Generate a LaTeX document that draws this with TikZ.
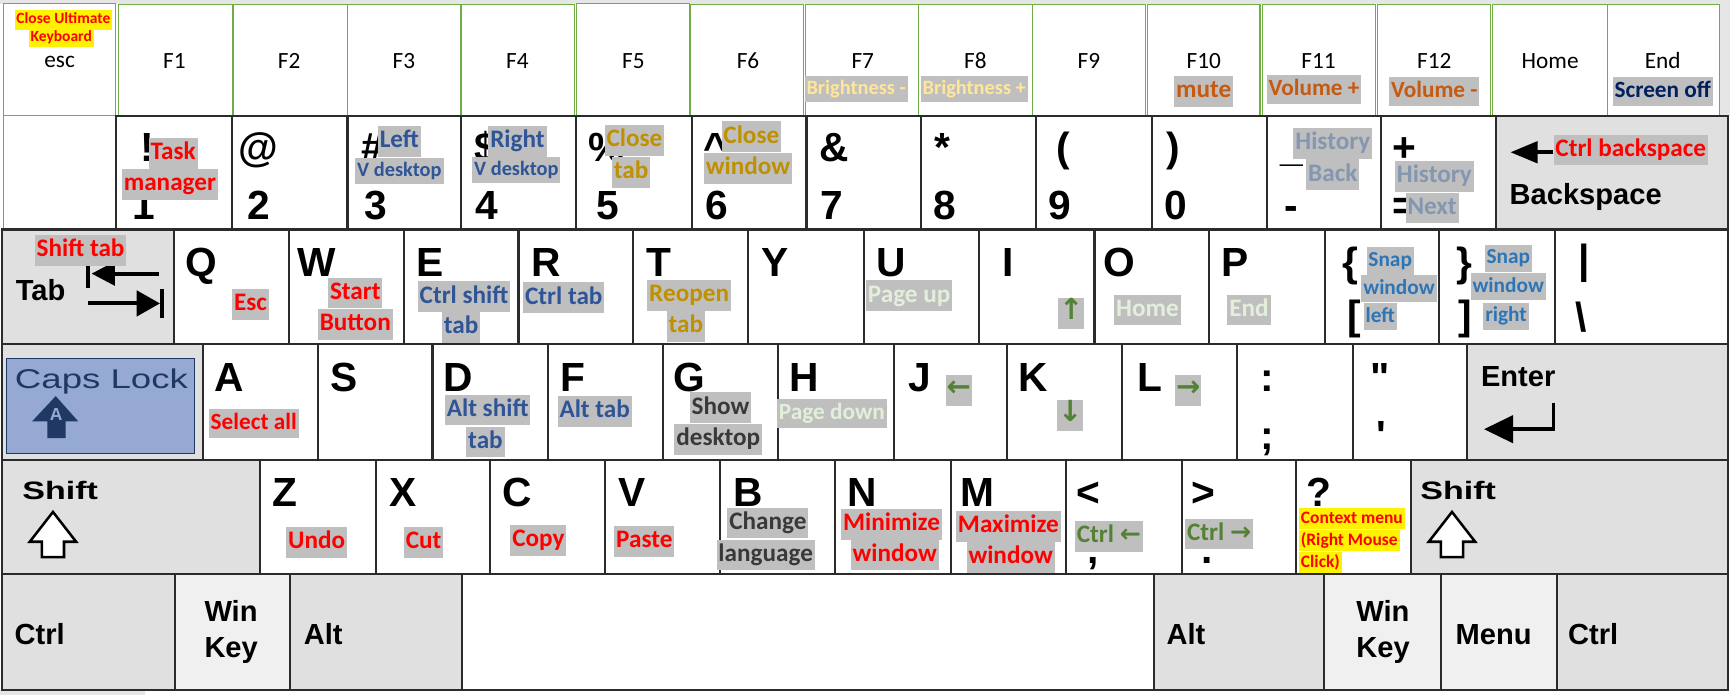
\documentclass[tikz,border=0pt]{standalone}
\usepackage{fontspec}
\setmainfont{Carlito}
\newfontfamily\keyfont{Liberation Sans}
\newfontfamily\widefont[FakeStretch=1.35]{Liberation Sans}
\newfontfamily\arrowfont{DejaVu Sans}
\usetikzlibrary{arrows.meta}

\definecolor{keyline}{HTML}{2B2B2B}
\definecolor{fgreen}{HTML}{70AD47}
\definecolor{modgray}{HTML}{E0E0E0}
\definecolor{wingray}{HTML}{F0F0F0}
\definecolor{taggray}{HTML}{BFBFBF}
\definecolor{bggray}{HTML}{E6E6E6}
\definecolor{scred}{HTML}{FF0000}
\definecolor{scblue}{HTML}{2F5597}
\definecolor{scgold}{HTML}{BF9000}
\definecolor{sclight}{HTML}{FFE699}
\definecolor{scorange}{HTML}{C55A11}
\definecolor{scnavy}{HTML}{002060}
\definecolor{schist}{HTML}{8497B0}
\definecolor{scpage}{HTML}{E2EFDA}
\definecolor{scarrow}{HTML}{548235}
\definecolor{scsnap}{HTML}{2E75B6}
\definecolor{scdark}{HTML}{3A3838}
\definecolor{capsfill}{HTML}{95A9D3}
\definecolor{capsnavy}{HTML}{1F3864}

\tikzset{
  keycap/.style={draw=keyline, line width=1.1pt, fill=white},
  modkey/.style={keycap, fill=modgray},
  winkey/.style={keycap, fill=wingray},
  fkey/.style={draw=fgreen, line width=0.6pt, fill=white},
  lgd/.style={anchor=base west, inner sep=0pt, font=\keyfont\bfseries\fontsize{21}{21}\selectfont},
  modlbl/.style={anchor=base west, inner sep=0pt, font=\keyfont\bfseries\fontsize{15}{15}\selectfont},
  flbl/.style={anchor=base, inner sep=0pt, font=\fontsize{12}{12}\selectfont},
  tag/.style={fill=taggray, inner xsep=1pt, inner ysep=1.5pt, text height=9.7pt, text depth=3.2pt, font=\bfseries\fontsize{13}{13}\selectfont},
  tagmid/.style={tag, text height=9pt, text depth=3pt, font=\bfseries\fontsize{12}{12}\selectfont},
  tagsnap/.style={tag, text height=8.3pt, text depth=2.7pt, font=\bfseries\fontsize{11}{11}\selectfont},
  tagsmall/.style={tag, text height=7.9pt, text depth=2.6pt, font=\bfseries\fontsize{10.5}{10.5}\selectfont},
  tagarrow/.style={tag, text=scarrow, inner xsep=0.5pt, font=\arrowfont\bfseries\fontsize{15}{15}\selectfont},
  hl/.style={fill=yellow, text=scred, inner xsep=1pt, inner ysep=1pt, text height=6.8pt, text depth=2.2pt, font=\bfseries\fontsize{9}{9}\selectfont},
  icon/.style={line width=2pt, draw=black},
}

\begin{document}
\begin{tikzpicture}[x=0.02cm, y=-0.02cm]
\useasboundingbox (0,0) rectangle (1568,630);
\fill[bggray] (0,0) rectangle (1568,4);
\fill[bggray] (1559,0) rectangle (1568,105);
\fill[bggray] (0,625.5) rectangle (131,630);

% function row
\draw[fkey] (3,3) rectangle (105,105);
\draw[fkey] (107.5,4) rectangle (210.5,105);
\draw[fkey] (212,4) rectangle (314.6,105);
\draw[fkey] (314.6,4) rectangle (417,105);
\draw[fkey] (418,4) rectangle (520.6,105);
\draw[fkey] (522.7,3) rectangle (625,105);
\draw[fkey] (626,4) rectangle (728.6,105);
\draw[fkey] (730.3,4) rectangle (832.3,105);
\draw[fkey] (832.3,4) rectangle (935.6,105);
\draw[fkey] (935.6,4) rectangle (1038.3,105);
\draw[fkey] (1040,4) rectangle (1142,105);
\draw[fkey] (1144,4) rectangle (1247,105);
\draw[fkey] (1248.5,4) rectangle (1351,105);
\draw[fkey] (1353,4) rectangle (1457,105);
\draw[fkey] (1457,4) rectangle (1558.6,105);

% number row
\draw[fkey] (3,105) rectangle (105,207.5);
\foreach \a/\b in {105/210,210/315,315/418,418/522,522/627,627/731,731/835,835/939,939/1044,1044/1148,1148/1252,1252/1356}
  \draw[keycap] (\a,105) rectangle (\b,208);
\draw[modkey] (1356,105) rectangle (1566,208);

% top letter row
\draw[modkey] (2,208) rectangle (158,312);
\foreach \a/\b in {158/262,262/366,366/470,470/574,574/678,678/783,783/887,887/992,992/1096,1096/1201,1201/1304,1304/1409,1409/1566}
  \draw[keycap] (\a,208) rectangle (\b,312);

% home row
\draw[modkey] (2,312) rectangle (184,417);
\draw[draw=capsnavy, line width=0.6pt, fill=capsfill] (6,325) rectangle (176,411);
\foreach \a/\b in {184/288,288/392,392/497,497/601,601/705,705/810,810/913,913/1017,1017/1121,1121/1226,1226/1330}
  \draw[keycap] (\a,312) rectangle (\b,417);
\draw[modkey] (1330,312) rectangle (1566,417);

% shift row
\draw[modkey] (2,417) rectangle (235.5,520.5);
\foreach \a/\b in {235.5/340.5,340.5/444,444/548,548/652.5,652.5/757,757/862,862/966,966/1071,1071/1175,1175/1279}
  \draw[keycap] (\a,417) rectangle (\b,520.5);
\draw[modkey] (1279,417) rectangle (1566,520.5);

% bottom row
\draw[modkey] (2,520.5) rectangle (158.5,625.5);
\draw[winkey] (158.5,520.5) rectangle (262.5,625.5);
\draw[modkey] (262.5,520.5) rectangle (418.5,625.5);
\draw[keycap] (418.5,520.5) rectangle (1046,625.5);
\draw[modkey] (1046,520.5) rectangle (1200,625.5);
\draw[winkey] (1200,520.5) rectangle (1306,625.5);
\draw[winkey] (1306,520.5) rectangle (1411,625.5);
\draw[modkey] (1411,520.5) rectangle (1566,625.5);

% function row labels
\node[flbl] (fEsc) at (54,61) {esc};
\node[flbl] (fF1) at (158,62) {F1};
\node[flbl] (fF2) at (262,62) {F2};
\node[flbl] (fF3) at (366,62) {F3};
\node[flbl] (fF4) at (469,62) {F4};
\node[flbl] (fF5) at (574,62) {F5};
\node[flbl] (fF6) at (678,62) {F6};
\node[flbl] (fF7) at (782,62) {F7};
\node[flbl] (fF8) at (884,62) {F8};
\node[flbl] (fF9) at (987,62) {F9};
\node[flbl] (fF10) at (1091,62) {F10};
\node[flbl] (fF11) at (1195,62) {F11};
\node[flbl] (fF12) at (1300,62) {F12};
\node[flbl] (fHome) at (1405,62) {Home};
\node[flbl] (fEnd) at (1507,62) {End};
\node[hl, text height=6pt, text depth=2pt, font=\bfseries\fontsize{8}{8}\selectfont] (hClose) at (57.5,18) {Close Ultimate};
\node[hl, text height=6pt, text depth=2pt, font=\bfseries\fontsize{8}{8}\selectfont] (hKeyb) at (55.5,34) {Keyboard};
\node[tagsmall, text=sclight] (tBrDown) at (776,81) {Brightness -};
\node[tagsmall, text=sclight] (tBrUp) at (883,81) {Brightness +};
\node[tag, text=scorange] (tMute) at (1091,83) {mute};
\node[tagmid, text=scorange] (tVolUp) at (1191,81) {Volume +};
\node[tagmid, text=scorange] (tVolDn) at (1300,83) {Volume -};
\node[tagmid, text=scnavy] (tScreen) at (1507,83) {Screen off};

% number row legends
\node[lgd] (kExcl) at (127,146) {!};
\node[lgd] (kOne) at (120,198.5) {1};
\node[lgd] (kAt) at (216,146) {@};
\node[lgd] (kTwo) at (224,198.5) {2};
\node[lgd] (kHash) at (327,146) {\#};
\node[lgd] (kThree) at (330,198.5) {3};
\node[lgd] (kDollar) at (430,146) {\$};
\node[lgd] (kFour) at (431,198.5) {4};
\node[lgd] (kPct) at (533,146) {\%};
\node[lgd] (kFive) at (540,198.5) {5};
\node[lgd] (kHat) at (637,146) {\textasciicircum};
\node[lgd] (kSix) at (639,198.5) {6};
\node[lgd] (kAmp) at (742,146) {\&};
\node[lgd] (kSeven) at (743,198.5) {7};
\node[lgd] (kStar) at (847,146) {*};
\node[lgd] (kEight) at (846,198.5) {8};
\node[lgd] (kLpar) at (957,146) {(};
\node[lgd] (kNine) at (950,198.5) {9};
\node[lgd] (kRpar) at (1057,146) {)};
\node[lgd] (kZero) at (1055,198.5) {0};
\node[lgd] (kUnder) at (1160,146) {\_};
\node[lgd] (kMinus) at (1164,198.5) {-};
\node[lgd] (kPlus) at (1262,146) {+};
\node[lgd] (kEq) at (1262,198.5) {=};
\node[modlbl] (kBack) at (1368,185) {Backspace};
\draw[icon, -{Triangle[length=14pt, width=11pt]}] (1408,138) -- (1369,138);

% number row tags
\node[tag, text=scred] (tTask) at (157,139) {Task};
\node[tag, text=scred] (tManager) at (154,167) {manager};
\node[tag, text=scblue] (tLeft) at (362,128) {Left};
\node[tagsmall, text=scblue] (tVdL) at (362,155) {V desktop};
\node[tag, text=scblue] (tRight) at (469,128) {Right};
\node[tagsmall, text=scblue] (tVdR) at (468,154) {V desktop};
\node[tag, text=scgold] (tClose) at (575,127) {Close};
\node[tag, text=scgold] (tTab) at (572,156) {tab};
\node[tag, text=scgold] (tCloseW) at (681,124) {Close};
\node[tag, text=scgold] (tWindow) at (678,152.5) {window};
\node[tag, text=schist] (tHistB) at (1208,130) {History};
\node[tag, text=schist] (tBack) at (1208,158.5) {Back};
\node[tag, text=schist] (tHistN) at (1300,159.6) {History};
\node[tag, text=schist] (tNext) at (1298,188.5) {Next};
\node[tag, text=scred] (tCtrlBs) at (1478,136) {Ctrl backspace};

% top letter row
\node[modlbl] (kTab) at (14,272) {Tab};
\draw[icon, -{Triangle[length=12pt, width=12pt]}] (144,248) -- (83,248);
\draw[icon] (80,239) -- (80,261);
\draw[icon, -{Triangle[length=12pt, width=13pt]}] (80,275) -- (145,275);
\draw[icon] (147,262) -- (147,288);
\node[lgd] (kQ) at (168,250.5) {Q};
\node[lgd] (kW) at (269,250.5) {W};
\node[lgd] (kE) at (377,250.5) {E};
\node[lgd] (kR) at (481,250.5) {R};
\node[lgd] (kT) at (586,250.5) {T};
\node[lgd] (kY) at (690,250.5) {Y};
\node[lgd] (kU) at (794,250.5) {U};
\node[lgd] (kI) at (908,250.5) {I};
\node[lgd] (kO) at (1000,250.5) {O};
\node[lgd] (kP) at (1107,250.5) {P};
\node[lgd] (kLbrace) at (1216,250.5) {\{};
\node[lgd] (kLbrack) at (1221,299) {[};
\node[lgd] (kRbrace) at (1320,250.5) {\}};
\node[lgd] (kRbrack) at (1322,299) {]};
\node[lgd] (kBar) at (1430,248) {|};
\node[lgd] (kBslash) at (1428,300) {\textbackslash};

\node[tag, text=scred] (tShiftTab) at (73,227) {Shift tab};
\node[tag, text=scred] (tEsc) at (227,275.7) {Esc};
\node[tag, text=scred] (tStart) at (322,265.6) {Start};
\node[tag, text=scred] (tButton) at (322,294) {Button};
\node[tag, text=scblue] (tCst) at (420.6,269) {Ctrl shift};
\node[tag, text=scblue] (tCstTab) at (418,297) {tab};
\node[tag, text=scblue] (tCtab) at (511,270) {Ctrl tab};
\node[tag, text=scgold] (tReopen) at (624.6,267.5) {Reopen};
\node[tag, text=scgold] (tReTab) at (621.7,296) {tab};
\node[tag, text=scpage] (tPgUp) at (824,268) {Page up};
\node[tagarrow] (tUp) at (971,284) {↑};
\node[tag, text=scpage] (tHome) at (1040,281) {Home};
\node[tag, text=scpage] (tEnd) at (1132,281) {End};
\node[tagsnap, text=scsnap] (tSnapL) at (1260,236.5) {Snap};
\node[tagsnap, text=scsnap] (tWinL) at (1268,261.6) {window};
\node[tagsnap, text=scsnap] (tLeftL) at (1251,287) {left};
\node[tagsnap, text=scsnap] (tSnapR) at (1367,234) {Snap};
\node[tagsnap, text=scsnap] (tWinR) at (1367,260) {window};
\node[tagsnap, text=scsnap] (tRightR) at (1365,286.6) {right};

% home row
\node[anchor=base, inner sep=0pt, text=capsnavy, font=\widefont\fontsize{14}{14}\selectfont] (kCaps) at (92,352) {Caps Lock};
\fill[capsnavy] (50.5,359) -- (71,382) -- (59.5,382) -- (59.5,397) -- (43,397) -- (43,382) -- (29,382) -- cycle;
\node[inner sep=0pt, text=capsfill, font=\keyfont\bfseries\fontsize{9}{9}\selectfont] (kCapsA) at (51,376) {A};
\node[lgd] (kA) at (194,355) {A};
\node[lgd] (kS) at (299,355) {S};
\node[lgd] (kD) at (402,355) {D};
\node[lgd] (kF) at (508,355) {F};
\node[lgd] (kG) at (610,355) {G};
\node[lgd] (kH) at (715,355) {H};
\node[lgd] (kJ) at (823,355) {J};
\node[lgd] (kK) at (923,355) {K};
\node[lgd] (kL) at (1031,355) {L};
\node[lgd] (kColon) at (1142,355) {:};
\node[lgd] (kSemi) at (1142,407) {;};
\node[lgd] (kDquote) at (1242,355) {\symbol{34}};
\node[lgd] (kQuote) at (1247,407) {\symbol{39}};
\node[modlbl] (kEnter) at (1342,350.5) {Enter};
\draw[icon, -{Triangle[length=15pt, width=14pt]}] (1408,365) -- (1408,389) -- (1345,389);

\node[tagmid, text=scred] (tSelAll) at (230,384) {Select all};
\node[tag, text=scblue] (tAsh) at (442,371.6) {Alt shift};
\node[tag, text=scblue] (tAshTab) at (440,400.6) {tab};
\node[tag, text=scblue] (tAtab) at (539,373) {Alt tab};
\node[tag, text=scdark] (tShow) at (653,369.6) {Show};
\node[tag, text=scdark] (tDesk) at (651,398) {desktop};
\node[tagmid, text=scpage] (tPgDn) at (754,374.6) {Page down};
\node[tagarrow] (tLeftA) at (869,354) {←};
\node[tagarrow] (tDownA) at (970,376.6) {↓};
\node[tagarrow] (tRightA) at (1077,354) {→};

% shift row
\node[anchor=base west, inner sep=0pt, font=\widefont\bfseries\fontsize{13}{13}\selectfont] (kShiftL) at (20,453) {Shift};
\draw[line width=1.3pt, fill=white] (48,464) -- (69,491) -- (58,491) -- (58,505) -- (38,505) -- (38,491) -- (27,491) -- cycle;
\node[anchor=base west, inner sep=0pt, font=\widefont\bfseries\fontsize{13}{13}\selectfont] (kShiftR) at (1287,453) {Shift};
\draw[line width=1.3pt, fill=white] (1316,464) -- (1337,491) -- (1326,491) -- (1326,505) -- (1306,505) -- (1306,491) -- (1295,491) -- cycle;
\node[lgd] (kZ) at (247,459) {Z};
\node[lgd] (kX) at (353,459) {X};
\node[lgd] (kC) at (455,459) {C};
\node[lgd] (kV) at (560,459) {V};
\node[lgd] (kB) at (664,459) {B};
\node[lgd] (kN) at (768,459) {N};
\node[lgd] (kM) at (870,459) {M};
\node[lgd] (kLess) at (975,459) {\textless};
\node[lgd] (kComma) at (985,511) {,};
\node[lgd] (kGreater) at (1080,459) {\textgreater};
\node[lgd] (kPeriod) at (1089,511) {.};
\node[lgd] (kQmark) at (1184,459) {?};

\node[tag, text=scred] (tUndo) at (287,491.7) {Undo};
\node[tag, text=scred] (tCut) at (384,491.7) {Cut};
\node[tag, text=scred] (tCopy) at (488,490) {Copy};
\node[tag, text=scred] (tPaste) at (584,490.6) {Paste};
\node[tag, text=scdark] (tChange) at (696,474) {Change};
\node[tag, text=scdark] (tLang) at (694,503) {language};
\node[tag, text=scred] (tMin) at (808,475) {Minimize};
\node[tag, text=scred] (tMinWin) at (811,503) {window};
\node[tag, text=scred] (tMax) at (914,477) {Maximize};
\node[tag, text=scred] (tMaxWin) at (916,505) {window};
\node[tag, text=scarrow] (tCtrlL) at (1005,486) {Ctrl {\arrowfont ←}};
\node[tag, text=scarrow] (tCtrlR) at (1105,484) {Ctrl {\arrowfont →}};
\node[hl, anchor=west] (hCtx1) at (1177,470) {Context menu};
\node[hl, anchor=west] (hCtx2) at (1177,490) {(Right Mouse};
\node[hl, anchor=west] (hCtx3) at (1177,510) {Click)};

% bottom row
\node[modlbl] (kCtrlL) at (13,584) {Ctrl};
\node[modlbl] (kWinL) at (185,563.5) {Win};
\node[modlbl] (kKeyL) at (185,596) {Key};
\node[modlbl] (kAltL) at (275,584) {Alt};
\node[modlbl] (kAltR) at (1057,584) {Alt};
\node[modlbl] (kWinR) at (1229,563.5) {Win};
\node[modlbl] (kKeyR) at (1229,596) {Key};
\node[modlbl] (kMenu) at (1319,584) {Menu};
\node[modlbl] (kCtrlR) at (1421,584) {Ctrl};
\end{tikzpicture}
\end{document}
